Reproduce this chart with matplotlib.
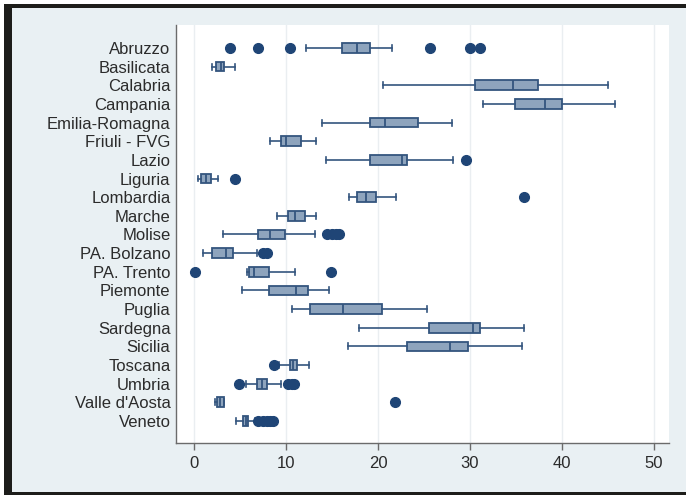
import matplotlib
matplotlib.use("Agg")
import matplotlib.pyplot as plt
from matplotlib.patches import Rectangle

regions = ["Abruzzo", "Basilicata", "Calabria", "Campania", "Emilia-Romagna",
           "Friuli - FVG", "Lazio", "Liguria", "Lombardia", "Marche", "Molise",
           "PA. Bolzano", "PA. Trento", "Piemonte", "Puglia", "Sardegna",
           "Sicilia", "Toscana", "Umbria", "Valle d'Aosta", "Veneto"]

whisker_low = [12.2, 2.0, 20.5, 31.4, 13.9, 8.3, 14.3, 0.4, 16.8, 9.0, 3.2,
               0.95, 5.8, 5.25, 10.65, 17.9, 16.7, 9.2, 5.6, 2.25, 4.55]
q1 = [16.1, 2.4, 30.5, 34.9, 19.1, 9.4, 19.1, 0.8, 17.7, 10.25, 6.9,
      1.9, 6.0, 8.15, 12.6, 25.5, 23.2, 10.4, 6.85, 2.55, 5.35]
median = [17.75, 2.9, 34.7, 38.2, 20.8, 10.0, 22.6, 1.27, 18.7, 10.95, 8.3,
          3.45, 6.55, 11.1, 16.2, 30.3, 27.8, 10.8, 7.35, 2.85, 5.6]
q3 = [19.1, 3.3, 37.4, 40.0, 24.3, 11.6, 23.1, 1.8, 19.75, 12.1, 9.9,
      4.2, 8.1, 12.35, 20.4, 31.1, 29.75, 11.2, 7.9, 3.25, 5.85]
whisker_high = [21.5, 4.5, 45.0, 45.8, 28.0, 13.3, 28.2, 2.65, 22.0, 13.3, 13.2,
                6.85, 11.0, 14.7, 25.3, 35.9, 35.7, 12.5, 9.4, 3.3, 6.6]
outliers = [[3.9, 6.9, 10.4, 25.7, 30.0, 31.1], [], [], [], [], [],
            [29.6], [4.45], [35.9], [], [14.5, 15.0, 15.4, 15.8],
            [7.5, 7.9], [0.15, 14.9], [], [], [], [],
            [8.7], [4.9, 10.2, 10.6, 10.9], [21.8], [7.0, 7.5, 7.9, 8.3, 8.6]]

xticks = [0, 10, 20, 30, 40, 50]

W, H = 686, 495
fig = plt.figure(figsize=(W / 100, H / 100), dpi=100, facecolor="white")
# outer frame
fig.patches.append(Rectangle((4 / W, 0), 1, 491 / H, transform=fig.transFigure,
                             facecolor="#1d1d1a", edgecolor="none", zorder=-2))
fig.patches.append(Rectangle((12 / W, 3 / H), 1, 484 / H, transform=fig.transFigure,
                             facecolor="#e9f0f3", edgecolor="none", zorder=-1))

ax = fig.add_axes([176 / W, 1 - 443 / H, (669 - 176) / W, (443 - 25) / H])
ax.set_facecolor("white")

stats = []
for i, name in enumerate(regions):
    stats.append(dict(label=name, whislo=whisker_low[i], q1=q1[i], med=median[i],
                      q3=q3[i], whishi=whisker_high[i], fliers=outliers[i]))

edge = "#34557e"
ax.bxp(stats, positions=list(range(len(regions))), orientation="horizontal",
       widths=0.52, capwidths=0.32, patch_artist=True,
       boxprops=dict(facecolor="#8ea4bd", edgecolor=edge, linewidth=1.3),
       medianprops=dict(color=edge, linewidth=1.3),
       whiskerprops=dict(color=edge, linewidth=1.2),
       capprops=dict(color=edge, linewidth=1.2),
       flierprops=dict(marker="o", markerfacecolor="#1f4576", markeredgecolor="#1f4576",
                       markersize=7, linestyle="none"))

ax.set_xlim(-1.96, 51.63)
ax.set_ylim(len(regions) - 1 + 1.18, -1.23)
ax.set_xticks(xticks)
ax.set_xticklabels([str(t) for t in xticks])
ax.set_yticks(list(range(len(regions))))
ax.set_yticklabels(regions)

for t in xticks:
    ax.axvline(t, color="#eaeef1", linewidth=1.0, zorder=0)

for s in ["top", "right"]:
    ax.spines[s].set_visible(False)
for s in ["left", "bottom"]:
    ax.spines[s].set_color("#6b6b6b")
    ax.spines[s].set_linewidth(1.0)

font = "Liberation Sans"
ax.tick_params(axis="y", length=0, pad=4, labelsize=12, labelcolor="#2b2b2b")
ax.tick_params(axis="x", length=5, width=1, color="#6b6b6b", pad=4, labelsize=12,
               labelcolor="#2b2b2b")
for lab in ax.get_xticklabels() + ax.get_yticklabels():
    lab.set_fontfamily(font)

fig.savefig("out.png", dpi=100, facecolor=fig.get_facecolor())
